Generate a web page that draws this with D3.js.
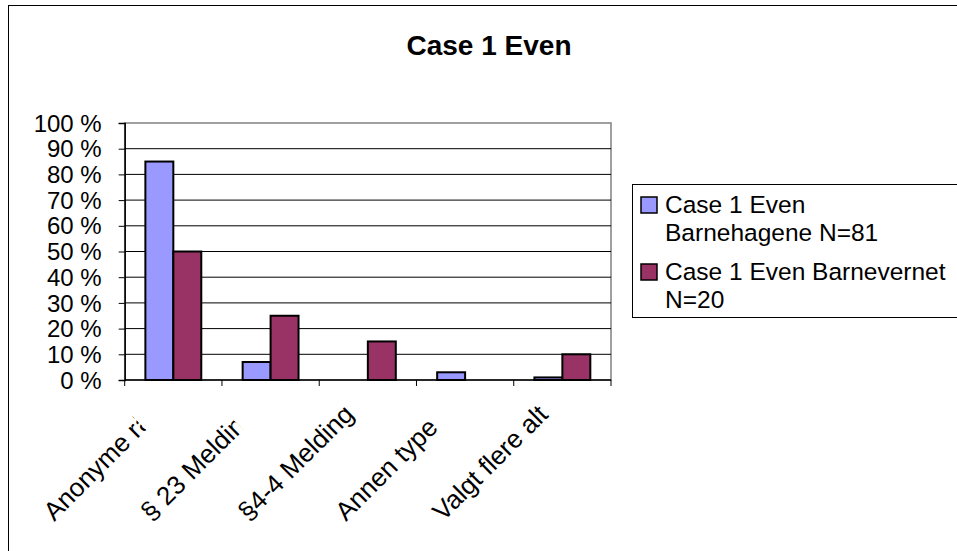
<!DOCTYPE html>
<html>
<head>
<meta charset="utf-8">
<script src="https://cdn.jsdelivr.net/npm/d3@7/dist/d3.min.js"></script>
<style>
  html, body { margin: 0; padding: 0; background: #fff; }
  svg { display: block; font-family: "Liberation Sans", Arial, Helvetica, sans-serif; }
</style>
</head>
<body>
<svg id="chart" width="957" height="551"></svg>
<script>
// ---- data ----
const title = "Case 1 Even";
const categories = ["Anonyme råd", "§ 23 Melding", "§4-4 Melding", "Annen type", "Valgt flere alt"];
const seriesNames = ["Case 1 Even Barnehagene N=81", "Case 1 Even Barnevernet N=20"];
const barnehagene = [85, 7, 0, 3, 1];
const barnevernet = [50, 25, 15, 0, 10];
const yTicks = [0, 10, 20, 30, 40, 50, 60, 70, 80, 90, 100];
const legendLines = [["Case 1 Even", "Barnehagene N=81"], ["Case 1 Even Barnevernet", "N=20"]];
const seriesColors = ["#9999FF", "#993366"];
const clippedLabels = [true, true, false, false, false];

// ---- layout ----
const svg = d3.select("#chart");
const plot = { left: 124.7, right: 611, top: 123, bottom: 380 };

// outer chart border
svg.append("rect").attr("x", 8.5).attr("y", 5.5).attr("width", 960).attr("height", 560)
  .attr("fill", "#fff").attr("stroke", "#000").attr("stroke-width", 1);

const x = d3.scaleBand().domain(categories).range([plot.left, plot.right]).paddingInner(0).paddingOuter(0);
const xs = d3.scaleBand().domain([0, 1]).range([0, x.bandwidth()]).paddingInner(0).paddingOuter(0.74);
const y = d3.scaleLinear().domain([0, 100]).range([plot.bottom, plot.top]);

// plot area frame (gray)
svg.append("rect").attr("x", plot.left).attr("y", plot.top)
  .attr("width", plot.right - plot.left).attr("height", plot.bottom - plot.top)
  .attr("fill", "#fff").attr("stroke", "#808080").attr("stroke-width", 1.5);

// gridlines
svg.append("g").selectAll("line").data(yTicks.filter(t => t > 0 && t < 100)).join("line")
  .attr("x1", plot.left).attr("x2", plot.right)
  .attr("y1", d => y(d)).attr("y2", d => y(d))
  .attr("stroke", "#000").attr("stroke-width", 1);

// bars
const rows = categories.map((c, i) => ({ c, vals: [barnehagene[i], barnevernet[i]] }));
const g = svg.append("g").selectAll("g").data(rows).join("g")
  .attr("transform", d => `translate(${x(d.c)},0)`);
g.selectAll("rect").data(d => d.vals.map((v, k) => ({ v, k }))).join("rect")
  .filter(d => d.v > 0)
  .attr("x", d => xs(d.k)).attr("width", xs.bandwidth())
  .attr("y", d => y(d.v)).attr("height", d => y(0) - y(d.v))
  .attr("fill", d => seriesColors[d.k]).attr("stroke", "#000").attr("stroke-width", 2);

// y axis
const yAxis = d3.axisLeft(y).tickValues(yTicks).tickSize(6).tickPadding(17).tickFormat(d => d + " %");
const ya = svg.append("g").attr("transform", `translate(${plot.left},0)`).call(yAxis);
ya.select(".domain").attr("stroke", "#000").attr("stroke-width", 1.5);
ya.selectAll(".tick line").attr("stroke", "#000");
ya.selectAll("text").attr("font-size", 24).attr("fill", "#000")
  .attr("font-family", "'Liberation Sans', Arial, sans-serif").attr("dy", "0.34em");

// x axis line and ticks at band boundaries
const xa = svg.append("g");
xa.append("line").attr("x1", plot.left).attr("x2", plot.right)
  .attr("y1", plot.bottom).attr("y2", plot.bottom).attr("stroke", "#000").attr("stroke-width", 1.5);
const bounds = categories.map(c => x(c)).concat([x(categories[categories.length - 1]) + x.bandwidth()]);
xa.selectAll("line.tk").data(bounds).join("line").attr("class", "tk")
  .attr("x1", d => d).attr("x2", d => d).attr("y1", plot.bottom).attr("y2", plot.bottom + 6)
  .attr("stroke", "#000");

// x labels (rotated -45, anchored at start)
const defs = svg.append("defs");
categories.forEach((c, i) => {
  const ax = x(c) + x.bandwidth() / 2 - 119, ay = 522;
  const lg = svg.append("g").attr("transform", `translate(${ax},${ay}) rotate(-45)`);
  if (clippedLabels[i]) {
    defs.append("clipPath").attr("id", "lc" + i).append("rect")
      .attr("x", -20).attr("y", -40).attr("width", 20 + 130).attr("height", 80);
    lg.attr("clip-path", `url(#lc${i})`);
  }
  lg.append("text").attr("x", 0).attr("y", 0).attr("font-size", 26).attr("fill", "#000")
    .attr("text-anchor", "start").text(c);
});

// title
svg.append("text").attr("x", 489).attr("y", 55).attr("text-anchor", "middle")
  .attr("font-size", 28).attr("font-weight", "bold").attr("fill", "#000").text(title);

// legend
const lgd = svg.append("g");
lgd.append("rect").attr("x", 632.5).attr("y", 184.5).attr("width", 340).attr("height", 133)
  .attr("fill", "#fff").attr("stroke", "#000").attr("stroke-width", 1);
const legendTop = [195, 262];
legendLines.forEach((lines, k) => {
  lgd.append("rect").attr("x", 641).attr("y", legendTop[k] + 2).attr("width", 16).attr("height", 16)
    .attr("fill", seriesColors[k]).attr("stroke", "#000").attr("stroke-width", 1.5);
  lines.forEach((t, j) => {
    lgd.append("text").attr("x", 665).attr("y", legendTop[k] + 18 + j * 28)
      .attr("font-size", 24.5).attr("fill", "#000").text(t);
  });
});
</script>
</body>
</html>
